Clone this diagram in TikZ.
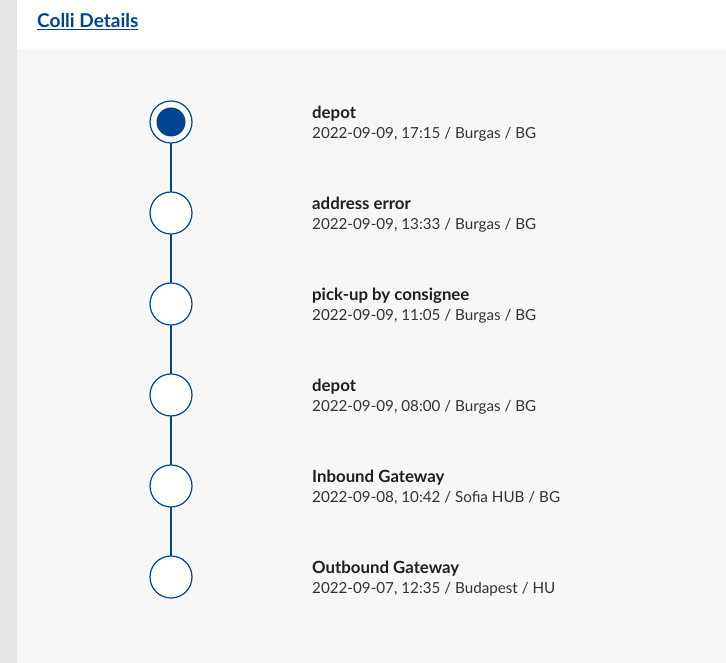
\documentclass[tikz,border=0pt]{standalone}
\usepackage{fontspec}
\setmainfont{Lato}
\definecolor{dblue}{HTML}{00438F}
\definecolor{bgside}{HTML}{E6E6E6}
\definecolor{bgmain}{HTML}{F7F7F7}
\definecolor{ttl}{HTML}{1F1F1F}
\definecolor{det}{HTML}{333333}
\begin{document}
\begin{tikzpicture}[x=1pt,y=1pt,
  stepcircle/.style={circle,draw=dblue,line width=1.2pt,fill=white,minimum size=42pt,inner sep=0pt},
  link/.style={draw=dblue,line width=2pt},
  ttltext/.style={anchor=base west,inner sep=0pt,text=ttl,font=\fontsize{16.8}{20}\selectfont\bfseries},
  dettext/.style={anchor=base west,inner sep=0pt,text=det,font=\fontsize{15.2}{18}\selectfont}]
\useasboundingbox (0,0) rectangle (726,663);
\fill[bgside] (0,0) rectangle (17,663);
\fill[white] (17,614) rectangle (726,663);
\fill[bgmain] (17,0) rectangle (726,614);
\node[anchor=base west,inner sep=0pt,text=dblue,font=\fontsize{19}{22}\selectfont\bfseries] (head) at (37,635) {\underline{Colli Details}};
% circles
\foreach \i/\cy in {1/122,2/213,3/304,4/395,5/486,6/577}{
  \coordinate (c\i) at (171,663-\cy);
}
\draw[link] (c1) -- (c6);
\foreach \i in {1,...,6}{\node[stepcircle] (s\i) at (c\i) {};}
\fill[dblue] (s1.center) circle (14.5);
% texts
\foreach \i/\cy/\t/\d in {
 1/122/depot/{2022-09-09, 17:15 / Burgas / BG},
 2/213/address error/{2022-09-09, 13:33 / Burgas / BG},
 3/304/pick-up by consignee/{2022-09-09, 11:05 / Burgas / BG},
 4/395/depot/{2022-09-09, 08:00 / Burgas / BG},
 5/486/Inbound Gateway/{2022-09-08, 10:42 / Sofia HUB / BG},
 6/577/Outbound Gateway/{2022-09-07, 12:35 / Budapest / HU}}{
  \node[ttltext] (t\i) at (312,663-\cy+3) {\t};
  \node[dettext] (d\i) at (312,663-\cy-16.5) {\d};
}
\end{tikzpicture}
\end{document}
